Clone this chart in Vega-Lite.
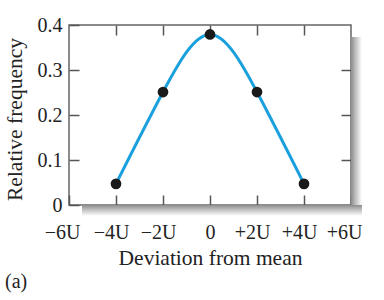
{
  "$schema": "https://vega.github.io/schema/vega-lite/v6.json",
  "width": 282,
  "height": 180,
  "autosize": {"type": "none"},
  "padding": {"left": 69, "top": 25, "right": 33, "bottom": 95},
  "background": "white",
  "title": {"text": "(a)", "orient": "bottom", "anchor": "start", "frame": "group", "dx": -64, "offset": 3, "fontSize": 20, "font": "Liberation Serif", "fontWeight": "normal", "color": "#222"},
  "config": {
    "view": {"stroke": "#666", "strokeWidth": 1.5, "fill": "white"},
    "axis": {
      "domain": false,
      "grid": false,
      "tickColor": "#555",
      "tickWidth": 1.5,
      "tickSize": -10,
      "labelOverlap": false,
      "labelBound": false,
      "labelFlush": false,
      "labelFont": "Liberation Serif",
      "labelFontSize": 20,
      "labelColor": "#222",
      "titleFont": "Liberation Serif",
      "titleFontSize": 21.5,
      "titleFontWeight": "normal",
      "titleColor": "#222"
    }
  },
  "datasets": {
    "pts": [
      {"dev": -4, "freq": 0.047},
      {"dev": -2, "freq": 0.251},
      {"dev": 0, "freq": 0.379},
      {"dev": 2, "freq": 0.251},
      {"dev": 4, "freq": 0.047}
    ]
  },
  "data": {"name": "pts"},
  "layer": [
    {
      "mark": {"type": "rect", "xOffset": 0, "x2Offset": 11, "yOffset": 12, "y2Offset": 11,
        "fill": {"gradient": "linear", "x1": 0, "y1": 0, "x2": 1, "y2": 0, "stops": [{"offset": 0, "color": "#8c8c8c"}, {"offset": 0.4, "color": "#bdbdbd"}, {"offset": 1, "color": "#ffffff"}]}},
      "encoding": {
        "x": {"datum": 6, "type": "quantitative", "scale": {"domain": [-6, 6], "nice": false, "zero": false},
          "axis": {"values": [-6, -4, -2, 0, 2, 4, 6], "labelPadding": 27.5, "labelOffset": {"condition": [{"test": "datum.value == 0", "value": 0}, {"test": "abs(datum.value) == 6", "value": -7}], "value": -5}, "labelExpr": "datum.value == 0 ? '0' : (datum.value > 0 ? '+' : '\u2212') + abs(datum.value) + 'U'", "title": "Deviation from mean", "titlePadding": 5, "orient": "bottom"}},
        "x2": {"datum": 6},
        "y": {"datum": 0.4, "type": "quantitative", "scale": {"domain": [0, 0.4], "nice": false},
          "axis": {"values": [0, 0.1, 0.2, 0.3, 0.4], "labelPadding": 17, "labelExpr": "datum.value == 0 ? '0' : format(datum.value, '.1f')", "title": "Relative frequency", "titlePadding": 11, "titleY": 94, "orient": "left"}},
        "y2": {"datum": 0}
      }
    },
    {
      "mark": {"type": "rect", "xOffset": 13, "x2Offset": 11, "yOffset": 0, "y2Offset": 11,
        "fill": {"gradient": "linear", "x1": 0, "y1": 0, "x2": 0, "y2": 1, "stops": [{"offset": 0, "color": "#8c8c8c"}, {"offset": 0.4, "color": "#bdbdbd"}, {"offset": 1, "color": "#ffffff"}]}},
      "encoding": {
        "x": {"datum": -6, "type": "quantitative", "axis": {"orient": "top", "values": [-4, -2, 0, 2, 4], "labels": false, "title": null}},
        "x2": {"datum": 6},
        "y": {"datum": 0, "type": "quantitative", "axis": {"orient": "right", "values": [0.1, 0.2, 0.3], "labels": false, "title": null}},
        "y2": {"datum": 0}
      }
    },
    {
      "mark": {"type": "line", "interpolate": "natural", "color": "#1aa0dc", "strokeWidth": 3},
      "encoding": {
        "x": {"field": "dev", "type": "quantitative", "axis": null},
        "y": {"field": "freq", "type": "quantitative", "axis": null}
      }
    },
    {
      "mark": {"type": "point", "filled": true, "shape": "circle", "size": 115, "color": "#1a1a1a", "opacity": 1},
      "encoding": {
        "x": {"field": "dev", "type": "quantitative", "axis": null},
        "y": {"field": "freq", "type": "quantitative", "axis": null}
      }
    }
  ],
  "resolve": {"axis": {"x": "independent", "y": "independent"}}
}
